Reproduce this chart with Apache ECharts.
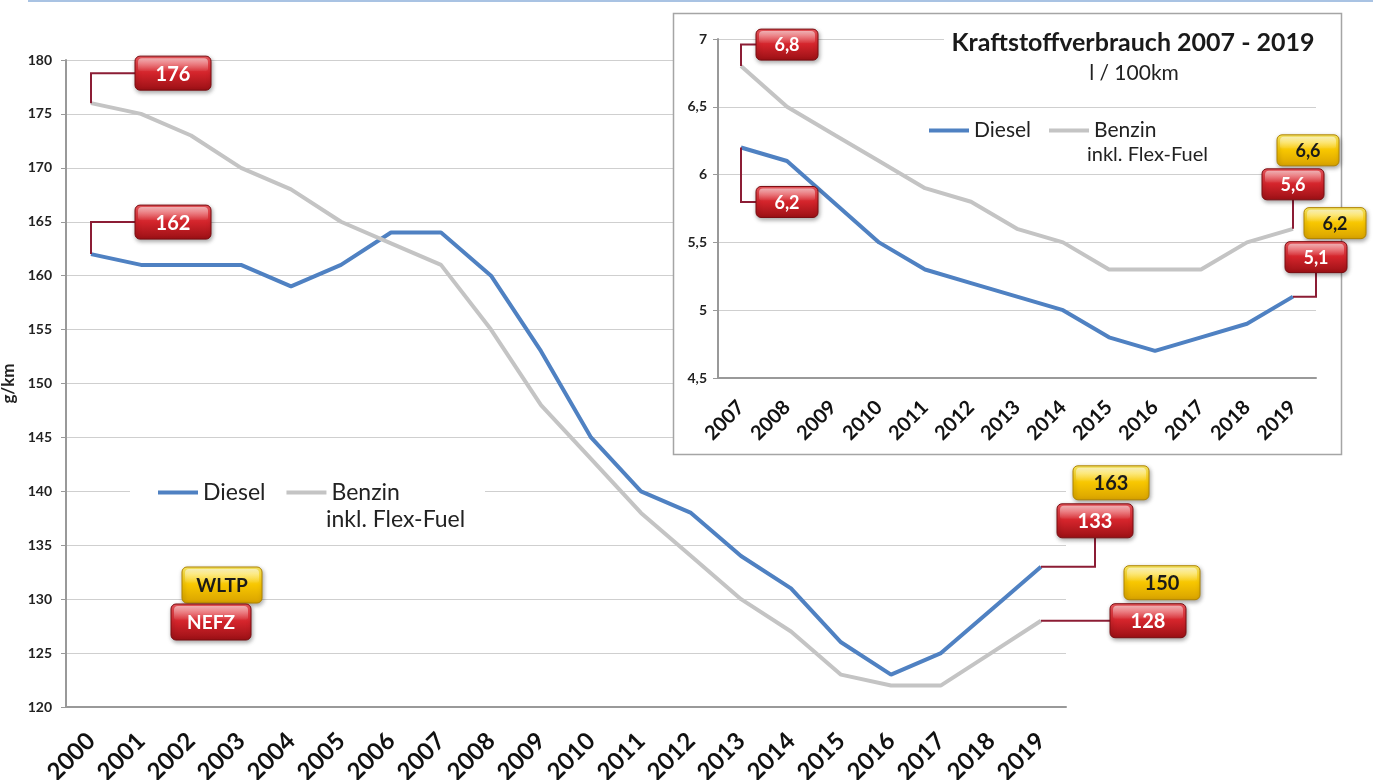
<!DOCTYPE html>
<html>
<head>
<meta charset="utf-8">
<script src="https://cdn.jsdelivr.net/npm/echarts@6/dist/echarts.min.js"></script>
<style>
  html, body { margin: 0; padding: 0; background: #fff; }
  #chart { width: 1373px; height: 780px; }
</style>
</head>
<body>
<div id="chart"></div>
<script>
// CO2 g/km, 2000 - 2019
const years = ['2000', '2001', '2002', '2003', '2004', '2005', '2006', '2007', '2008', '2009',
  '2010', '2011', '2012', '2013', '2014', '2015', '2016', '2017', '2018', '2019'];
const dieselCO2 = [162, 161, 161, 161, 159, 161, 164, 164, 160, 153, 145, 140, 138, 134, 131, 126, 123, 125, 129, 133];
const benzinCO2 = [176, 175, 173, 170, 168, 165, 163, 161, 155, 148, 143, 138, 134, 130, 127, 123, 122, 122, 125, 128];
const wltpCO2 = { diesel: 163, benzin: 150 };

// Kraftstoffverbrauch l/100km, 2007 - 2019
const yearsInset = ['2007', '2008', '2009', '2010', '2011', '2012', '2013', '2014', '2015', '2016', '2017', '2018', '2019'];
const dieselL = [6.2, 6.1, 5.8, 5.5, 5.3, 5.2, 5.1, 5.0, 4.8, 4.7, 4.8, 4.9, 5.1];
const benzinL = [6.8, 6.5, 6.3, 6.1, 5.9, 5.8, 5.6, 5.5, 5.3, 5.3, 5.3, 5.5, 5.6];
const wltpL = { diesel: 6.2, benzin: 6.6 };

const BLUE = '#4f81c2';
const GREY = '#c4c4c4';
const comma = v => String(v).replace('.', ',');

const chart = echarts.init(document.getElementById('chart'));

const option = {
  backgroundColor: '#fff',
  animation: false,
  textStyle: { fontFamily: 'Lato' },
  grid: [
    { left: 66, right: 307, top: 60, bottom: 73, outerBoundsMode: 'none', containLabel: false },
    { left: 718, right: 57, top: 39, bottom: 402, z: 10, outerBoundsMode: 'none', containLabel: false }
  ],
  legend: [
    {
      left: 153, top: 476, icon: 'rect', itemWidth: 40, itemHeight: 4, itemGap: 21,
      textStyle: { fontSize: 23, color: '#222', fontFamily: 'Lato' },
      data: ['Diesel', 'Benzin'], selectedMode: false
    },
    {
      left: 924, top: 115, icon: 'rect', itemWidth: 40, itemHeight: 4, itemGap: 18, z: 15,
      textStyle: { fontSize: 21, color: '#222', fontFamily: 'Lato' },
      data: ['Diesel', 'Benzin'], selectedMode: false
    }
  ],
  xAxis: [
    {
      type: 'category', gridIndex: 0, data: years, boundaryGap: true,
      axisLine: { lineStyle: { color: '#999', width: 2 } },
      axisTick: { length: 8, lineStyle: { color: '#999', width: 1.5 } },
      axisLabel: { rotate: 45, interval: 0, margin: 30, fontSize: 24, fontWeight: 'bold', color: '#111' }
    },
    {
      type: 'category', gridIndex: 1, data: yearsInset, boundaryGap: true, z: 10,
      axisLine: { lineStyle: { color: '#999', width: 2 } },
      axisTick: { length: 7, lineStyle: { color: '#999', width: 1.5 } },
      axisLabel: { rotate: 45, interval: 0, margin: 26, fontSize: 20, fontWeight: 'bold', color: '#111' }
    }
  ],
  yAxis: [
    {
      type: 'value', gridIndex: 0, min: 120, max: 180, interval: 5,
      name: 'g/km', nameLocation: 'middle', nameGap: 39,
      nameTextStyle: { fontSize: 17, fontWeight: 'bold', color: '#222' },
      axisLine: { show: true, lineStyle: { color: '#999', width: 2 } },
      axisTick: { show: true, length: 5, lineStyle: { color: '#999' } },
      axisLabel: { margin: 14, fontSize: 14, fontWeight: 'bold', color: '#222' },
      splitLine: { lineStyle: { color: '#cfcfcf', width: 1 } }
    },
    {
      type: 'value', gridIndex: 1, min: 4.5, max: 7, interval: 0.5, z: 10,
      axisLine: { show: true, lineStyle: { color: '#999', width: 2 } },
      axisTick: { show: true, length: 5, lineStyle: { color: '#999' } },
      axisLabel: { margin: 11, fontSize: 14, fontWeight: 'bold', color: '#222', formatter: comma },
      splitLine: { lineStyle: { color: '#cfcfcf', width: 1 } }
    }
  ],
  series: [
    { name: 'Diesel', type: 'line', xAxisIndex: 0, yAxisIndex: 0, data: dieselCO2, symbol: 'none', color: BLUE, lineStyle: { width: 4, color: BLUE } },
    { name: 'Benzin', type: 'line', xAxisIndex: 0, yAxisIndex: 0, data: benzinCO2, symbol: 'none', color: GREY, lineStyle: { width: 4, color: GREY } },
    { name: 'Diesel', type: 'line', xAxisIndex: 1, yAxisIndex: 1, data: dieselL, symbol: 'none', color: BLUE, z: 12, lineStyle: { width: 4, color: BLUE } },
    { name: 'Benzin', type: 'line', xAxisIndex: 1, yAxisIndex: 1, data: benzinL, symbol: 'none', color: GREY, z: 12, lineStyle: { width: 4, color: GREY } }
  ]
};
chart.setOption(option);

// glossy label boxes
const LG = echarts.graphic.LinearGradient;
function box(x, y, w, h, text, kind, size) {
  const red = kind === 'red';
  const fill = red
    ? new LG(0, 0, 0, 1, [{ offset: 0, color: '#ef5a60' }, { offset: 0.5, color: '#d3242b' }, { offset: 1, color: '#9a1015' }])
    : new LG(0, 0, 0, 1, [{ offset: 0, color: '#ffef6a' }, { offset: 0.5, color: '#f7c600' }, { offset: 1, color: '#d8a200' }]);
  return [
    {
      type: 'rect', z: 30, shape: { x, y, width: w, height: h, r: 5 },
      style: { fill, stroke: red ? '#7a0c11' : '#b08400', lineWidth: 1, shadowBlur: 4, shadowOffsetX: 1, shadowOffsetY: 2, shadowColor: 'rgba(0,0,0,0.35)' }
    },
    {
      type: 'rect', z: 31, shape: { x: x + 3, y: y + 2, width: w - 6, height: h * 0.38, r: [4, 4, 2, 2] },
      style: { fill: new LG(0, 0, 0, 1, [{ offset: 0, color: 'rgba(255,255,255,0.55)' }, { offset: 1, color: 'rgba(255,255,255,0.05)' }]) }
    },
    {
      type: 'text', z: 32, x: x + w / 2, y: y + h / 2 + 1,
      style: {
        text, fill: red ? '#fff' : '#1a1a1a', font: 'bold ' + size + 'px Lato',
        align: 'center', verticalAlign: 'middle', textAlign: 'center', textVerticalAlign: 'middle'
      }
    }
  ];
}

const px = (g, i, v) => chart.convertToPixel({ gridIndex: g }, [i, v]);

// annotation boxes: anchored on a data point, offset in pixels
const notes = [
  { g: 0, arr: benzinCO2, i: 0, text: String(benzinCO2[0]), kind: 'red', dx: 44, dy: -47, link: 'v-h' },
  { g: 0, arr: dieselCO2, i: 0, text: String(dieselCO2[0]), kind: 'red', dx: 44, dy: -49, link: 'v-h' },
  { g: 0, arr: dieselCO2, i: 19, text: String(wltpCO2.diesel), kind: 'yellow', dx: 32, dy: -101 },
  { g: 0, arr: dieselCO2, i: 19, text: String(dieselCO2[19]), kind: 'red', dx: 16, dy: -63, link: 'h-v' },
  { g: 0, arr: benzinCO2, i: 19, text: String(wltpCO2.benzin), kind: 'yellow', dx: 83, dy: -55 },
  { g: 0, arr: benzinCO2, i: 19, text: String(benzinCO2[19]), kind: 'red', dx: 69, dy: -17, link: 'v-h' },
  { g: 1, arr: benzinL, i: 0, text: comma(benzinL[0]), kind: 'red', dx: 15, dy: -37, link: 'v-h' },
  { g: 1, arr: dieselL, i: 0, text: comma(dieselL[0]), kind: 'red', dx: 15, dy: 39, link: 'v-h' },
  { g: 1, arr: benzinL, i: 12, text: comma(wltpL.benzin), kind: 'yellow', dx: -16, dy: -94 },
  { g: 1, arr: benzinL, i: 12, text: comma(benzinL[12]), kind: 'red', dx: -31, dy: -60, link: 'h-v' },
  { g: 1, arr: dieselL, i: 12, text: comma(wltpL.diesel), kind: 'yellow', dx: 11, dy: -89 },
  { g: 1, arr: dieselL, i: 12, text: comma(dieselL[12]), kind: 'red', dx: -8, dy: -55, link: 'h-v' }
];

const graphics = [
  { type: 'line', z: 1, shape: { x1: 28, y1: 1, x2: 1373, y2: 1 }, style: { stroke: '#a9c3e3', lineWidth: 2 } },
  // inset panel
  { type: 'rect', z: 5, shape: { x: 673.5, y: 13.5, width: 668, height: 441 }, style: { fill: '#fff', stroke: '#a5a5a5', lineWidth: 1.5 } },
  { type: 'rect', z: 13, shape: { x: 944, y: 28, width: 374, height: 28 }, style: { fill: '#fff' } },
  { type: 'text', z: 14, x: 1133, y: 43, style: { text: 'Kraftstoffverbrauch 2007 - 2019', font: 'bold 25px Lato', fill: '#1a1a1a', align: 'center', verticalAlign: 'middle', textAlign: 'center', textVerticalAlign: 'middle' } },
  { type: 'text', z: 14, x: 1134, y: 73, style: { text: 'l / 100km', font: '21px Lato', fill: '#222', align: 'center', verticalAlign: 'middle', textAlign: 'center', textVerticalAlign: 'middle' } },
  { type: 'text', z: 15, x: 1087, y: 155, style: { text: 'inkl. Flex-Fuel', font: '20px Lato', fill: '#222', verticalAlign: 'middle', textVerticalAlign: 'middle' } },
  // main legend
  { type: 'rect', z: 3, shape: { x: 130, y: 480, width: 355, height: 20 }, style: { fill: '#fff' } },
  { type: 'text', z: 4, x: 326, y: 520, style: { text: 'inkl. Flex-Fuel', font: '23px Lato', fill: '#222', verticalAlign: 'middle', textVerticalAlign: 'middle' } }
];
graphics.push(...box(182, 567, 80, 36, 'WLTP', 'yellow', 19));
graphics.push(...box(171, 604, 80, 36, 'NEFZ', 'red', 19));

notes.forEach(n => {
  const p = px(n.g, n.i, n.arr[n.i]);
  const w = n.g === 0 ? 76 : 62;
  const h = n.g === 0 ? 34 : 31;
  const bx = p[0] + n.dx, by = p[1] + n.dy;
  if (n.link === 'v-h') {
    const cy = by + h / 2;
    graphics.push({ type: 'polyline', z: 29, shape: { points: [[p[0], p[1]], [p[0], cy], [bx, cy]] }, style: { stroke: '#8c1d35', lineWidth: 2, fill: null } });
  } else if (n.link === 'h-v') {
    const cx = bx + w / 2;
    graphics.push({ type: 'polyline', z: 29, shape: { points: [[p[0], p[1]], [cx, p[1]], [cx, by + h]] }, style: { stroke: '#8c1d35', lineWidth: 2, fill: null } });
  }
  graphics.push(...box(bx, by, w, h, n.text, n.kind, n.g === 0 ? 20 : 18));
});

chart.setOption({ graphic: graphics });
</script>
</body>
</html>
